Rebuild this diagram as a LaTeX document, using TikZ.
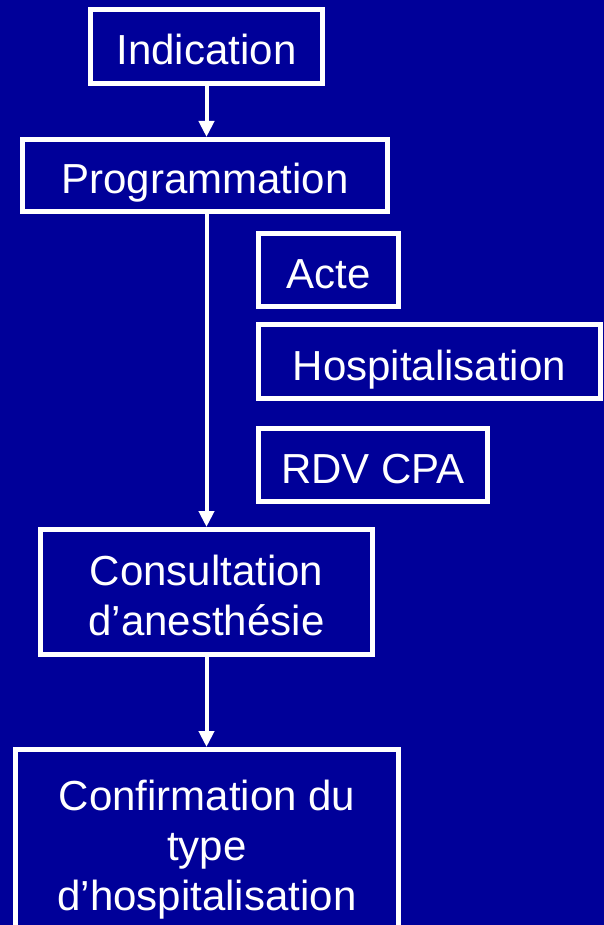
\documentclass[tikz,border=0pt]{standalone}
\usepackage{fontspec}
\setmainfont{Liberation Sans}
\usepackage{tikz}
\usetikzlibrary{arrows.meta}
\definecolor{slideblue}{RGB}{0,0,153}
\tikzset{bx/.style={rectangle,draw=white,line width=5pt,text=white,align=center,inner sep=0pt,
    text height=37pt,text depth=0pt,font=\fontsize{42}{50}\selectfont}}

\begin{document}
\begin{tikzpicture}[x=1pt,y=-1pt,>={Triangle[width=15pt,length=16pt]}]
    \fill[slideblue] (0,0) rectangle (604,925);
    \useasboundingbox (0,0) rectangle (604,925);
    \clip (0,0) rectangle (604,925);
    \node[bx,minimum width=232pt,minimum height=74pt] (ind) at (206.5,46.5) {Indication};
    \node[bx,minimum width=365pt,minimum height=72pt] (prog) at (205,175.5) {Programmation};
    \node[bx,minimum width=140pt,minimum height=73pt] (acte) at (328.5,270) {Acte};
    \node[bx,minimum width=342pt,minimum height=74pt] (hosp) at (429.5,361.5) {Hospitalisation};
    \node[bx,minimum width=229pt,minimum height=73pt] (rdv) at (373,465) {RDV CPA};
    \node[bx,minimum width=332pt,minimum height=125pt,text height=87pt] (cons) at (206.5,592) {Consultation\\d’anesthésie};
    \node[bx,minimum width=383pt,minimum height=185pt,text height=137pt] (conf) at (207,842) {Confirmation du\\type\\d’hospitalisation};

    \draw [->,white,line width=4pt] (ind.south) -- (ind.south |- prog.north);
    \draw [->,white,line width=4pt] (ind.south |- prog.south) -- (ind.south |- cons.north);
    \draw [->,white,line width=4pt] (cons.south) -- (cons.south |- conf.north);
\end{tikzpicture}
\end{document}
